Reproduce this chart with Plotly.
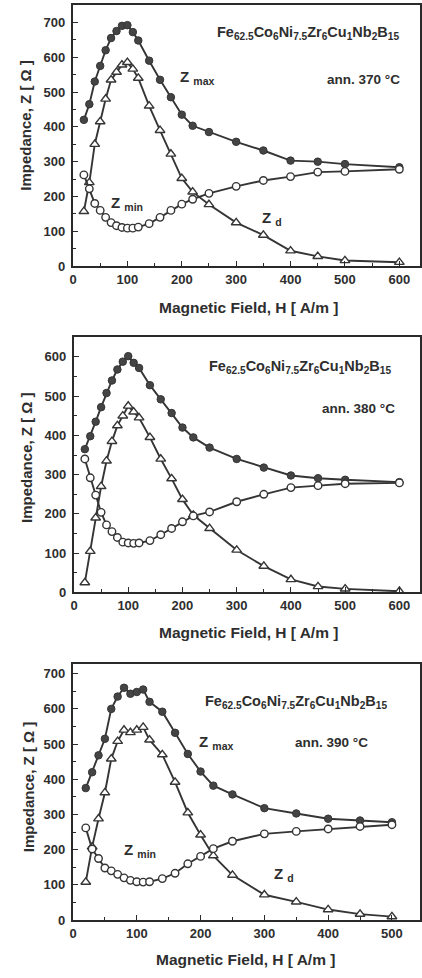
import plotly.graph_objects as go

# ---------------- data ----------------
H_370 = [20, 30, 40, 50, 60, 70, 80, 90, 100, 110, 120, 140, 160, 180, 200, 220, 250, 300, 350, 400, 450, 500, 600]
ZMAX_370 = [420, 465, 530, 575, 620, 655, 675, 690, 692, 672, 648, 590, 535, 485, 435, 403, 385, 357, 332, 303, 300, 293, 284]
ZD_370 = [157, 240, 350, 415, 480, 535, 557, 578, 585, 566, 540, 460, 390, 322, 252, 213, 177, 125, 89, 44, 28, 16, 11]
ZMIN_370 = [262, 222, 180, 160, 140, 125, 116, 111, 109, 109, 112, 122, 140, 160, 178, 192, 209, 229, 246, 257, 270, 272, 278]

H_380 = [20, 30, 40, 50, 60, 70, 80, 90, 100, 110, 120, 140, 160, 180, 200, 220, 250, 300, 350, 400, 450, 500, 600]
ZMAX_380 = [365, 398, 435, 472, 508, 540, 568, 588, 602, 585, 572, 528, 492, 457, 420, 395, 369, 340, 318, 298, 291, 287, 281]
ZD_380 = [25, 105, 190, 270, 335, 385, 425, 450, 475, 460, 445, 395, 340, 290, 237, 197, 163, 108, 67, 33, 15, 9, 3]
ZMIN_380 = [340, 292, 248, 204, 172, 155, 140, 128, 126, 125, 126, 132, 147, 163, 180, 195, 205, 231, 250, 267, 272, 277, 279]

H_390 = [20, 30, 40, 50, 60, 70, 80, 90, 100, 110, 120, 140, 160, 180, 200, 220, 250, 300, 350, 400, 450, 500]
ZMAX_390 = [375, 420, 468, 515, 600, 635, 660, 643, 648, 655, 620, 592, 532, 472, 422, 382, 357, 318, 303, 288, 283, 278]
ZD_390 = [108, 208, 288, 362, 458, 508, 540, 533, 540, 548, 512, 470, 392, 305, 242, 183, 128, 72, 52, 30, 17, 10]
ZMIN_390 = [262, 202, 175, 148, 140, 130, 120, 113, 109, 108, 109, 118, 133, 160, 181, 203, 224, 245, 252, 259, 266, 271]

TEMPS = ["ann. 370 \u00b0C", "ann. 380 \u00b0C", "ann. 390 \u00b0C"]
FORMULA = "Fe<sub>62.5</sub>Co<sub>6</sub>Ni<sub>7.5</sub>Zr<sub>6</sub>Cu<sub>1</sub>Nb<sub>2</sub>B<sub>15</sub>"
X_TITLE = "Magnetic Field, H [ A/m ]"
Y_TITLE = "Impedance, Z [ \u03a9 ]"

# ---------------- layout helpers ----------------
W, Hh = 422, 978
FONT = "Liberation Sans, Arial, sans-serif"
INK = "#353535"
TXT = "#2e2e2e"


def py(px):  # pixel y (from top) -> paper
    return 1 - px / Hh


def pxx(px):
    return px / W


panels = [
    dict(h=H_370, zmax=ZMAX_370, zd=ZD_370, zmin=ZMIN_370, top=5, bot=268.3, yr=750, xr=638, left=70),
    dict(h=H_380, zmax=ZMAX_380, zd=ZD_380, zmin=ZMIN_380, top=339.3, bot=597.3, yr=652, xr=638, left=71),
    dict(h=H_390, zmax=ZMAX_390, zd=ZD_390, zmin=ZMIN_390, top=669.3, bot=927.7, yr=728, xr=544, left=70),
]

fig = go.Figure()
layout = dict(
    width=W, height=Hh,
    margin=dict(l=0, r=0, t=0, b=0),
    paper_bgcolor="white", plot_bgcolor="white",
    showlegend=False,
    font=dict(family=FONT, color=INK),
)

annotations = []
for i, p in enumerate(panels):
    n = "" if i == 0 else str(i + 1)
    xa, ya = "x" + n, "y" + n
    line_style = dict(color=INK, width=1.9)
    fig.add_trace(go.Scatter(
        x=p["h"], y=p["zmax"], mode="lines+markers", xaxis=xa, yaxis=ya,
        line=line_style,
        marker=dict(symbol="circle", size=7.5, color="#444444", line=dict(color=INK, width=1)),
        name="Z max"))
    fig.add_trace(go.Scatter(
        x=p["h"], y=p["zd"], mode="lines+markers", xaxis=xa, yaxis=ya,
        line=line_style,
        marker=dict(symbol="triangle-up", size=8.5, color="white", line=dict(color=INK, width=1.4)),
        name="Z d"))
    fig.add_trace(go.Scatter(
        x=p["h"], y=p["zmin"], mode="lines+markers", xaxis=xa, yaxis=ya,
        line=line_style,
        marker=dict(symbol="circle", size=7.5, color="white", line=dict(color=INK, width=1.4)),
        name="Z min"))

    common = dict(
        showline=True, linecolor="#2a2a2a", linewidth=2.2, mirror=True,
        ticks="inside", ticklen=5, tickwidth=1.4, tickcolor="#2a2a2a",
        showgrid=False, zeroline=False,
        tickfont=dict(family=FONT, size=13, color=TXT, weight="bold"),
        ticklabeloverflow="allow",
        minor=dict(ticks="inside", ticklen=3, tickwidth=1.1, tickcolor="#2a2a2a", showgrid=False),
    )
    layout["xaxis" + n] = dict(
        common, domain=[pxx(p["left"]), 1.0], range=[0, p["xr"]],
        dtick=100, tick0=0, anchor=ya, minor=dict(common["minor"], dtick=50),
    )
    layout["yaxis" + n] = dict(
        common, domain=[py(p["bot"]), py(p["top"])], range=[0, p["yr"]],
        dtick=100, tick0=0, anchor=xa, ticklabelstandoff=3, minor=dict(common["minor"], dtick=50),
    )

# axis titles (as annotations for precise placement)
ytitle_pos = [(22, 127), (23, 462), (25, 794)]
xtitle_pos = [(248, 310), (248, 638), (245, 967)]
for (xp, yp) in ytitle_pos:
    annotations.append(dict(text="<b>" + Y_TITLE + "</b>", x=pxx(xp), y=py(yp), xref="paper", yref="paper",
                            showarrow=False, textangle=-90, font=dict(size=15, family=FONT, color=TXT),
                            xanchor="center", yanchor="middle"))
for (xp, yp) in xtitle_pos:
    annotations.append(dict(text="<b>" + X_TITLE + "</b>", x=pxx(xp), y=py(yp), xref="paper", yref="paper",
                            showarrow=False, font=dict(size=15.5, family=FONT, color=TXT),
                            xanchor="center", yanchor="middle"))

# formula and annealing temperature labels
formula_pos = [(308, 33), (300, 370), (296, 708)]
temp_pos = [(365, 80), (360, 412), (332, 749)]
for (xp, yp) in formula_pos:
    annotations.append(dict(text="<b>" + FORMULA + "</b>", x=pxx(xp), y=py(yp), xref="paper", yref="paper",
                            showarrow=False, font=dict(size=14.5, family=FONT, color=TXT),
                            xanchor="center", yanchor="middle"))
for (xp, yp), t in zip(temp_pos, TEMPS):
    annotations.append(dict(text="<b>" + t + "</b>", x=pxx(xp), y=py(yp), xref="paper", yref="paper",
                            showarrow=False, font=dict(size=13.5, family=FONT, color=TXT),
                            xanchor="center", yanchor="middle"))

# curve labels
curve_labels = [
    ("Z <sub>max</sub>", 196, 78), ("Z <sub>min</sub>", 125, 205), ("Z <sub>d</sub>", 272, 220),
    ("Z <sub>max</sub>", 216, 749), ("Z <sub>min</sub>", 138, 858), ("Z <sub>d</sub>", 284, 882),
]
for t, xp, yp in curve_labels:
    annotations.append(dict(text="<b>" + t + "</b>", x=pxx(xp), y=py(yp), xref="paper", yref="paper",
                            showarrow=False, font=dict(size=15, family=FONT, color=TXT),
                            xanchor="center", yanchor="middle"))

layout["annotations"] = annotations
fig.update_layout(**layout)
# remove the browser's default 8px body margin so the figure sits at the page origin
fig.write_html("out.html", config={"displayModeBar": False},
               post_script="document.body.style.margin='0';")
